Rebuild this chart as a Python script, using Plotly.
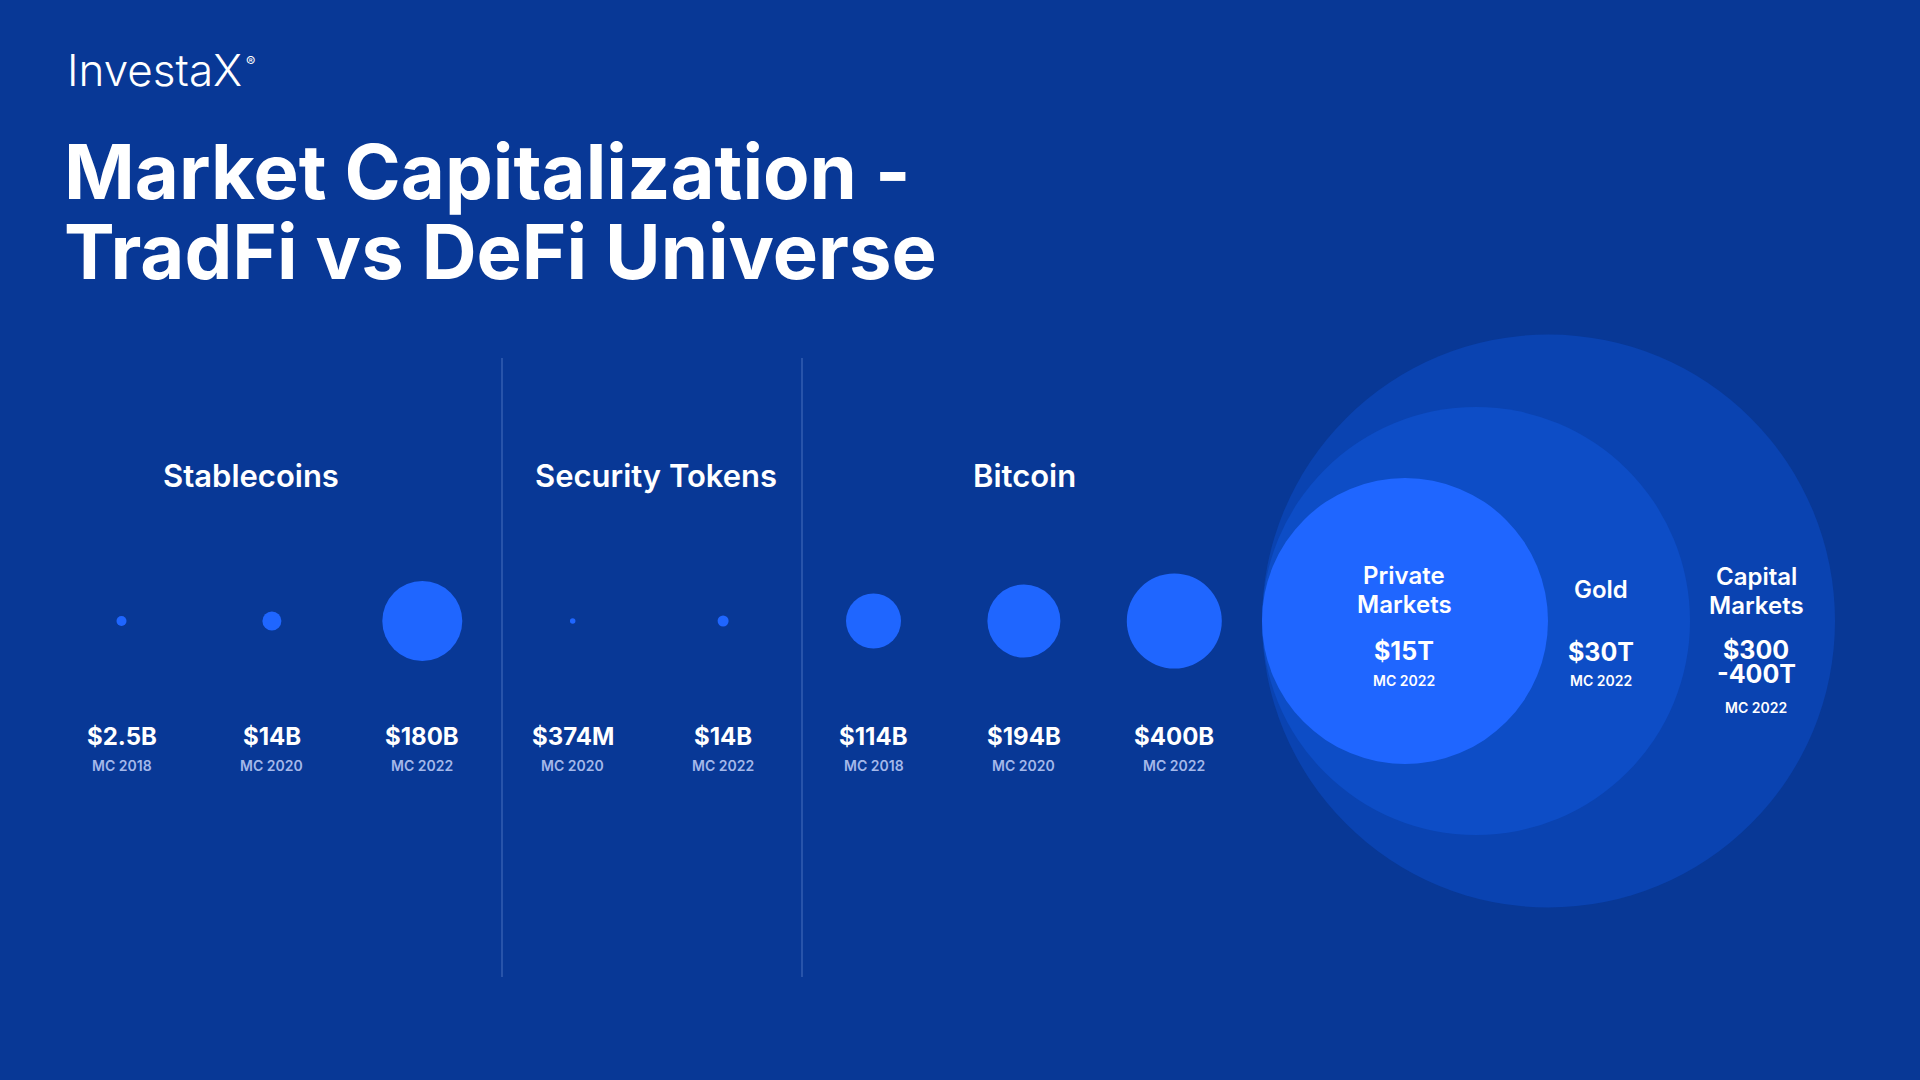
import plotly.graph_objects as go

# ---------------- data ----------------
groups = ["Stablecoins", "Security Tokens", "Bitcoin"]
defi_group = ["Stablecoins", "Stablecoins", "Stablecoins",
              "Security Tokens", "Security Tokens",
              "Bitcoin", "Bitcoin", "Bitcoin"]
defi_year = ["MC 2018", "MC 2020", "MC 2022",
             "MC 2020", "MC 2022",
             "MC 2018", "MC 2020", "MC 2022"]
defi_value_bn = [2.5, 14, 180, 0.374, 14, 114, 194, 400]
defi_label = ["$2.5B", "$14B", "$180B", "$374M", "$14B", "$114B", "$194B", "$400B"]

tradfi_name = ["Capital Markets", "Gold", "Private Markets"]
tradfi_value_tn = [350, 30, 15]
tradfi_label = ["$300 -400T", "$30T", "$15T"]
tradfi_year = ["MC 2022", "MC 2022", "MC 2022"]

# ---------------- styles ----------------
BG = "#083896"
DOT = "#1F66FF"
TRADFI_COLORS = ["#0A43B1", "#0D4DC6", "#1F66FF"]
DEFI_SIZES = [10, 19, 80, 5.5, 11, 55, 73, 95]        # marker diameters (px)
TRADFI_SIZES = [573, 428, 286]                         # marker diameters (px)
TRADFI_LEFT = 1262                                     # common tangent point
ROW_Y = 621
FONT = "Inter"
W, H = 1920, 1080

cats = [f"{g} {y}" for g, y in zip(defi_group, defi_year)]

fig = go.Figure()

fig.add_trace(go.Scatter(
    x=cats, y=[ROW_Y] * len(cats), mode="markers",
    marker=dict(size=DEFI_SIZES, color=DOT, opacity=1, line=dict(width=0)),
    customdata=defi_value_bn, hoverinfo="skip", xaxis="x", yaxis="y",
))

for name, size, col in zip(tradfi_name, TRADFI_SIZES, TRADFI_COLORS):
    fig.add_trace(go.Scatter(
        x=[TRADFI_LEFT + size / 2], y=[ROW_Y], mode="markers", name=name,
        marker=dict(size=size, color=col, opacity=1, line=dict(width=0)),
        hoverinfo="skip", xaxis="x2", yaxis="y",
    ))

ann = []
def A(x, y, text, size, color="white", weight=400, xref="paper", xanchor="center"):
    ann.append(dict(x=x, y=y, xref=xref, yref="y", text=text, showarrow=False,
                    xanchor=xanchor, yanchor="middle",
                    font=dict(family=FONT, size=size, color=color, weight=weight)))

# logo & title
A(65 / W, 70, "InvestaX", 44, weight=300, xanchor="left")
A(244 / W, 61, "®", 14, weight=400, xanchor="left")
A(62 / W, 171, "Market Capitalization -", 76, weight=700, xanchor="left")
A(62 / W, 251, "TradFi vs DeFi Universe", 76, weight=700, xanchor="left")

# group headers
for g, xc in zip(groups, [251, 656, 1024]):
    A(xc / W, 475, g, 31, weight=600)

# DeFi labels
for c, lab, yr in zip(cats, defi_label, defi_year):
    A(c, 736, lab, 24, weight=700, xref="x")
    A(c, 765, yr, 14, color="#A4B8EA", weight=600, xref="x")

# TradFi labels
cap_l1, cap_l2 = tradfi_name[0].split(" ")
pm_l1, pm_l2 = tradfi_name[2].split(" ")
cv_l1, cv_l2 = tradfi_label[0].split(" ")
# Private Markets
A(1404, 575, pm_l1, 24, weight=600, xref="x2")
A(1404, 604, pm_l2, 24, weight=600, xref="x2")
A(1404, 651, tradfi_label[2], 25, weight=700, xref="x2")
A(1404, 680, tradfi_year[2], 14, weight=600, xref="x2")
# Gold
A(1601, 589, tradfi_name[1], 24, weight=600, xref="x2")
A(1601, 652, tradfi_label[1], 25, weight=700, xref="x2")
A(1601, 680, tradfi_year[1], 14, weight=600, xref="x2")
# Capital Markets
A(1756, 576, cap_l1, 24, weight=600, xref="x2")
A(1756, 605, cap_l2, 24, weight=600, xref="x2")
A(1756, 650, cv_l1, 25, weight=700, xref="x2")
A(1756, 674, cv_l2, 25, weight=700, xref="x2")
A(1756, 707, tradfi_year[0], 14, weight=600, xref="x2")

shapes = [dict(type="line", xref="paper", yref="y", x0=xs / W, x1=xs / W, y0=358, y1=977,
               line=dict(color="rgba(130,160,225,0.55)", width=1)) for xs in [502, 802]]

X0, STEP = 121.5, 150.4
fig.update_layout(
    width=W, height=H, margin=dict(l=0, r=0, t=0, b=0),
    paper_bgcolor=BG, plot_bgcolor=BG, showlegend=False,
    xaxis=dict(type="category", categoryorder="array", categoryarray=cats,
               range=[-X0 / STEP, (W - X0) / STEP], visible=False, fixedrange=True),
    xaxis2=dict(range=[0, W], overlaying="x", visible=False, fixedrange=True),
    yaxis=dict(range=[H, 0], visible=False, fixedrange=True),
    annotations=ann, shapes=shapes,
)

fig.write_html(
    "out.html",
    config={"displayModeBar": False},
    post_script="document.body.style.margin='0px';document.body.style.overflow='hidden';"
                "document.body.style.background='" + BG + "';",
)
